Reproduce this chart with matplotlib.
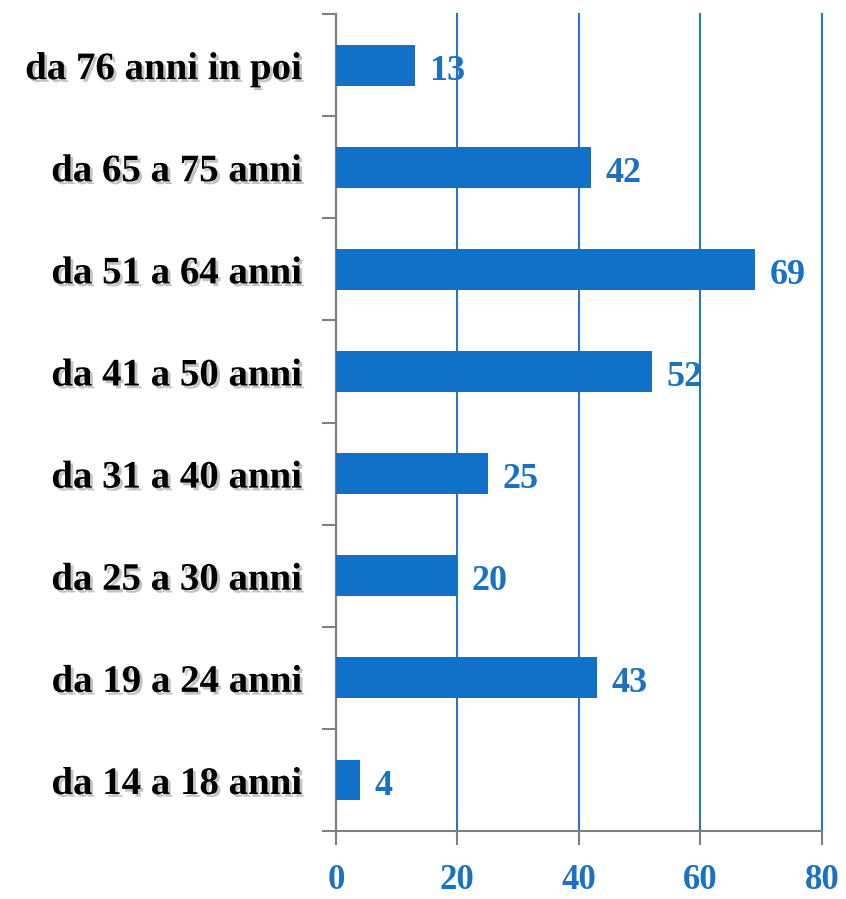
import matplotlib
matplotlib.use("Agg")
import matplotlib.pyplot as plt
import matplotlib.patheffects as pe
import numpy as np

categories = ["da 14 a 18 anni", "da 19 a 24 anni", "da 25 a 30 anni", "da 31 a 40 anni",
              "da 41 a 50 anni", "da 51 a 64 anni", "da 65 a 75 anni", "da 76 anni in poi"]
values = [4, 43, 20, 25, 52, 69, 42, 13]
xticks = [0, 20, 40, 60, 80]

bar_color = "#1170c8"
text_blue = "#1a72c0"
spine_gray = "#7f7f7f"

fig = plt.figure(figsize=(8.46, 8.99), dpi=100)
ax = fig.add_axes([0.397, 0.0756, 0.5745, 0.9088])

y = np.arange(len(categories))
ax.barh(y, values, height=0.4, color=bar_color, zorder=3)

for yi, v in zip(y, values):
    ax.text(v + 2.4, yi - 0.06, str(v), color=text_blue, fontsize=26, fontweight="bold",
            family="Liberation Serif", va="center", ha="left", zorder=4)

ax.set_xlim(0, 80)
ax.set_ylim(-0.5, len(categories) - 0.5)
ax.set_xticks(xticks)
ax.set_xticklabels([str(t) for t in xticks], color=text_blue, fontsize=25,
                   fontweight="bold", family="Liberation Serif")
ax.tick_params(axis="x", length=10, width=1.5, color=spine_gray, pad=14)

ax.set_yticks(y)
ax.set_yticklabels(categories, fontsize=28, fontweight="bold", family="Liberation Serif")
ax.tick_params(axis="y", which="major", length=0, pad=24)
ax.set_yticks(np.arange(-0.5, len(categories)), minor=True)
ax.tick_params(axis="y", which="minor", length=10, width=1.5, color=spine_gray)
for lbl in ax.get_yticklabels():
    lbl.set_path_effects([pe.SimplePatchShadow(offset=(2, -2), shadow_rgbFace="#888888", alpha=0.5),
                          pe.Normal()])

ax.grid(axis="x", color="#2a74c6", linewidth=1.5, zorder=0)
for gl in ax.get_xgridlines():
    gl.set_clip_on(False)
ax.set_axisbelow(True)
for s in ["top", "right"]:
    ax.spines[s].set_visible(False)
for s in ["left", "bottom"]:
    ax.spines[s].set_color(spine_gray)
    ax.spines[s].set_linewidth(1.5)

fig.savefig("out.png", dpi=100)
